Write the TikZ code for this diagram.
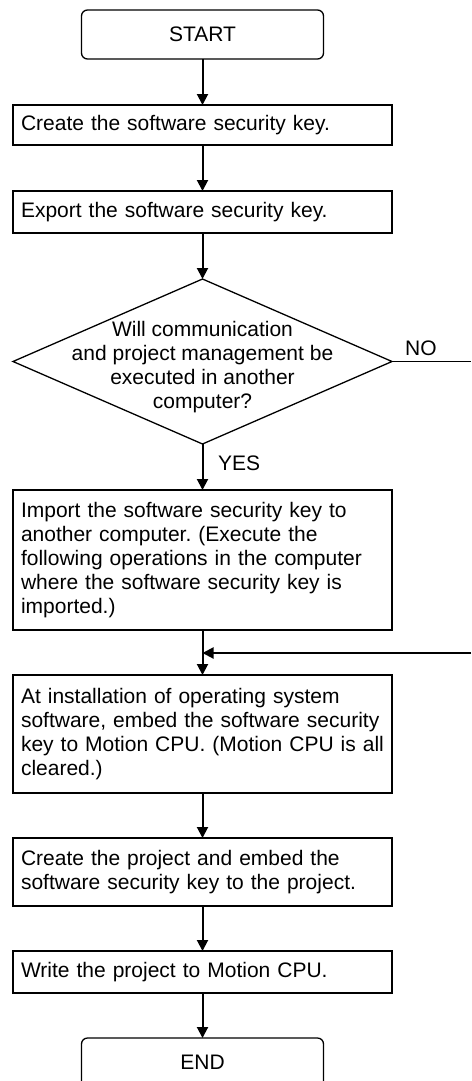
\documentclass[tikz,border=0pt]{standalone}
\usepackage{fontspec}
\setmainfont{Liberation Sans}
\usetikzlibrary{shapes.geometric,arrows.meta}
\frenchspacing
\begin{document}
\begin{tikzpicture}[x=1pt,y=-1pt,
  font=\fontsize{21}{24.2}\selectfont,
  proc/.style={draw, line width=1.3pt, minimum width=379pt, text width=363pt,
    align=left, inner xsep=8pt, inner ysep=2pt, outer sep=0pt, anchor=center},
  term/.style={draw, line width=1.3pt, rounded corners=6pt, minimum width=242pt,
    minimum height=49pt, inner sep=0pt, outer sep=0pt},
  dec/.style={draw, line width=1.3pt, shape=diamond, minimum width=379pt,
    minimum height=165pt, inner sep=0pt, outer sep=0pt},
  arr/.style={line width=2pt, -{Triangle[length=11pt,width=11pt]}},
  conn/.style={line width=1.3pt}]
\useasboundingbox (0,0) rectangle (471,1081);
\clip (0,0) rectangle (471,1081);
\node[term] (start) at (202.5,34.5) {START};
\node[proc, minimum height=40pt] (b1) at (202.5,125) {Create the software security key.};
\node[proc, minimum height=42pt] (b2) at (202.5,212) {Export the software security key.};
\node[dec] (d) at (202.5,361.5) {};
\node[align=center, inner sep=0pt] (dt) at (202.5,367) {Will communication\\and project management be\\executed in another\\computer?};
\node[proc, minimum height=140pt] (b3) at (202.5,560) {Import the software security key to\\another computer. (Execute the\\following operations in the computer\\where the software security key is\\imported.)};
\node[proc, minimum height=118pt] (b4) at (202.5,734) {At installation of operating system\\software, embed the software security\\key to Motion CPU. (Motion CPU is all\\cleared.)};
\node[proc, minimum height=68pt] (b5) at (202.5,872) {Create the project and embed the\\software security key to the project.};
\node[proc, minimum height=42pt] (b6) at (202.5,972) {Write the project to Motion CPU.};
\node[term] (end) at (202.5,1062.5) {END};
\node[anchor=west, inner sep=0pt] (no) at (405,348) {NO};
\node[anchor=west, inner sep=0pt] (yes) at (218,463) {YES};
\coordinate (noend) at (471,361.5);
\coordinate (retstart) at (471,653);
\coordinate (merge) at (202.5,653);
\draw[arr] (start) -- (b1);
\draw[arr] (b1) -- (b2);
\draw[arr] (b2) -- (d.north);
\draw[arr] (d.south) -- (b3);
\draw[arr] (b3) -- (b4);
\draw[arr] (b4) -- (b5);
\draw[arr] (b5) -- (b6);
\draw[arr] (b6) -- (end);
\draw[conn] (d.east) -- (noend);
\draw[arr] (retstart) -- (merge);
\end{tikzpicture}
\end{document}
